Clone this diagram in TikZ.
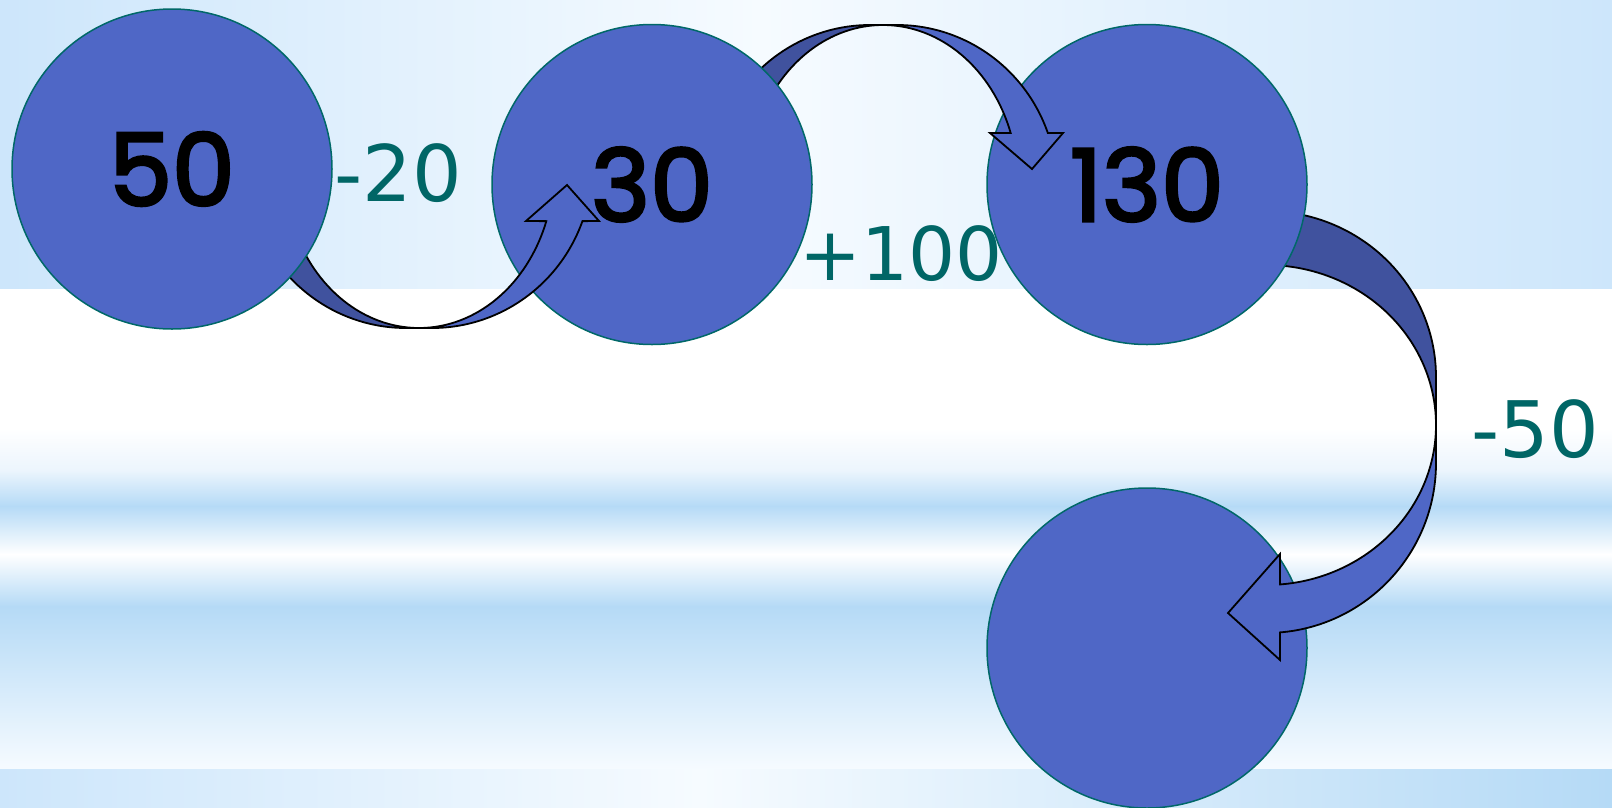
\documentclass[tikz,border=0pt]{standalone}
\usepackage{fontspec}
\usetikzlibrary{calc}
\newfontfamily\numfont{Poppins}[FakeBold=3]
\newfontfamily\lblfont{DejaVu Sans}
\definecolor{ballblue}{RGB}{79,103,198}
\definecolor{bandback}{RGB}{64,82,158}
\definecolor{rim}{RGB}{0,104,104}
\definecolor{lblteal}{RGB}{0,102,102}
\definecolor{skyA}{RGB}{205,230,251}
\definecolor{skyB}{RGB}{246,251,255}
\definecolor{skyC}{RGB}{181,218,246}
\definecolor{skyD}{RGB}{236,245,253}
\tikzset{
  ball/.style={circle, draw=rim, line width=1.5pt, fill=ballblue, minimum size=320pt, inner sep=0pt, font=\numfont\fontsize{100}{100}\selectfont},
  delta/.style={text=lblteal, inner sep=0pt, font=\lblfont\fontsize{78}{78}\selectfont},
  bandbk/.style={fill=bandback, draw=black, line width=1.8pt},
  bandfr/.style={fill=ballblue, draw=black, line width=1.8pt},
  band/.style={draw=none},
}
\begin{document}
\begin{tikzpicture}[x=1pt, y=-1pt]
\useasboundingbox (0,0) rectangle (1612,807);
\fill[white] (0,0) rectangle (1612,807);
\shade[band, left color=skyA, right color=skyB] (0,0) rectangle (760.5,288);
\shade[band, left color=skyB, right color=skyA] (760,0) rectangle (1612,288);
\shade[band, top color=white, bottom color=skyD] (0,428) rectangle (1612,470.5);
\shade[band, top color=skyD, bottom color=skyC] (0,470) rectangle (1612,506.5);
\shade[band, top color=skyC, bottom color=white] (0,506) rectangle (1612,554.5);
\shade[band, top color=white, bottom color=skyC] (0,554) rectangle (1612,606.5);
\shade[band, top color=skyC, bottom color=skyB] (0,606) rectangle (1612,769.5);
\shade[band, left color=skyA, right color=skyB] (0,769) rectangle (700.5,807);
\shade[band, left color=skyB, right color=skyC] (700,769) rectangle (1612,807);
\coordinate (i1) at (419,168);
\coordinate (o1b) at (406,166);
\coordinate (o1f) at (432,166);
\coordinate (i2) at (883,185);
\coordinate (o2b) at (870,187);
\coordinate (o2f) at (897,187);
\coordinate (i3) at (1266,425);
\coordinate (o3b) at (1266,377);
\coordinate (o3f) at (1266,463);
\filldraw[bandbk] ($(o1b)+(90:160 and 162)$) arc[start angle=90, end angle=158, x radius=160, y radius=162]
  -- ($(i1)+(158:135 and 160)$) arc[start angle=158, end angle=90, x radius=135, y radius=160] -- cycle;
\filldraw[bandbk] ($(o2b)+(270:160 and 162)$) arc[start angle=270, end angle=205, x radius=160, y radius=162]
  -- ($(i2)+(205:135 and 160)$) arc[start angle=205, end angle=270, x radius=135, y radius=160] -- cycle;
\filldraw[bandbk] ($(o3b)+(0:170 and 166)$) arc[start angle=0, end angle=-100, x radius=170, y radius=166]
  -- ($(i3)+(-100:170 and 160)$) arc[start angle=-100, end angle=0, x radius=170, y radius=160] -- cycle;
\node[ball] (c50) at (172,169) {50};
\node[ball] (c30) at (652,184.5) {30};
\node[ball] (c130) at (1147,184.5) {130};
\node[ball] (cend) at (1147,648) {};
\filldraw[bandfr] ($(i1)+(90:135 and 160)$) arc[start angle=90, end angle=19.4, x radius=135, y radius=160]
  -- (526,221) -- (567,185) -- (599,221) -- ($(o1f)+(19.9:160 and 162)$)
  arc[start angle=19.9, end angle=90, x radius=160, y radius=162] -- cycle;
\filldraw[bandfr] ($(i2)+(270:135 and 160)$) arc[start angle=270, end angle=341, x radius=135, y radius=160]
  -- (990,133) -- (1032,169) -- (1063,133) -- ($(o2f)+(340.5:160 and 162)$)
  arc[start angle=340.5, end angle=270, x radius=160, y radius=162] -- cycle;
\filldraw[bandfr] ($(i3)+(0:170 and 160)$) arc[start angle=0, end angle=85.3, x radius=170, y radius=160]
  -- (1280,554) -- (1228,613) -- (1280,660) -- ($(o3f)+(85.3:170 and 170)$)
  arc[start angle=85.3, end angle=0, x radius=170, y radius=170] -- cycle;
\node[delta] (d20) at (398.5,173.5) {-20};
\node[delta, font=\lblfont\fontsize{74}{74}\selectfont] (d100) at (901,253.5) {+100};
\node[delta] (d50) at (1535,429.5) {-50};
\end{tikzpicture}
\end{document}
